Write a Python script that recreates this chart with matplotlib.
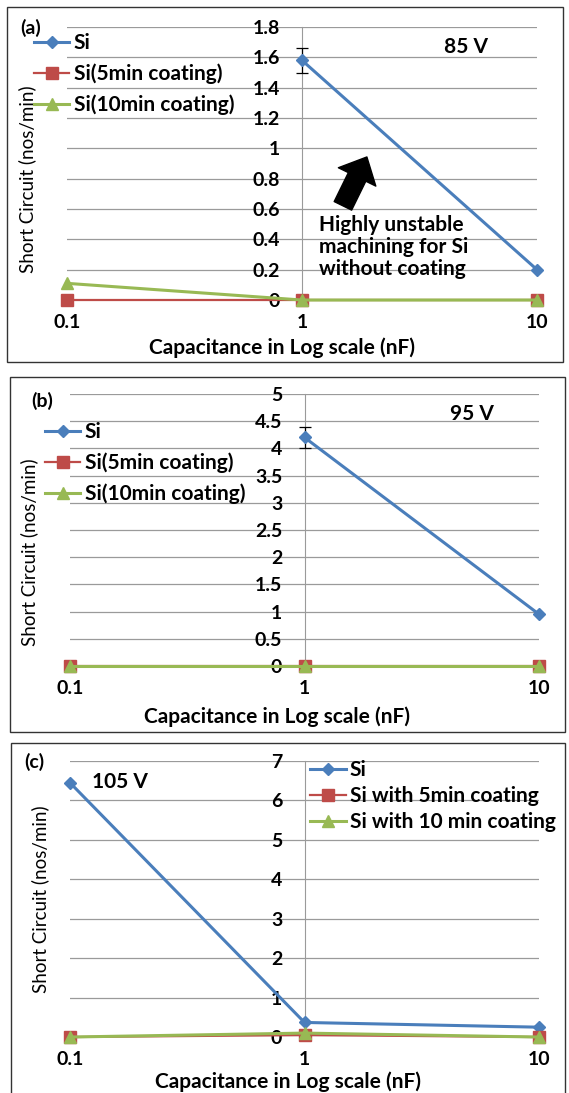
import numpy as np
import matplotlib
matplotlib.use("Agg")
import matplotlib.pyplot as plt
from matplotlib.patches import Rectangle

plt.rcParams['font.family'] = ['Lato', 'DejaVu Sans']
plt.rcParams['font.weight'] = 'bold'

# capacitance values (nF), shared by all panels
cap = [0.1, 1, 10]

# (a) 85 V
a_si = [np.nan, 1.58, 0.20]
a_si_err = [0, 0.08, 0]
a_5min = [0, 0, 0]
a_10min = [0.11, 0, 0]
a_ticks = [0, 0.2, 0.4, 0.6, 0.8, 1, 1.2, 1.4, 1.6, 1.8]
a_ticklabels = ['0', '0.2', '0.4', '0.6', '0.8', '1', '1.2', '1.4', '1.6', '1.8']

# (b) 95 V
b_si = [np.nan, 4.2, 0.95]
b_si_err = [0, 0.2, 0]
b_5min = [0, 0, 0]
b_10min = [0, 0, 0]
b_ticks = [0, 0.5, 1, 1.5, 2, 2.5, 3, 3.5, 4, 4.5, 5]
b_ticklabels = ['0', '0.5', '1', '1.5', '2', '2.5', '3', '3.5', '4', '4.5', '5']

# (c) 105 V
c_si = [6.45, 0.37, 0.25]
c_si_err = [0, 0, 0]
c_5min = [0, 0.05, 0]
c_10min = [0, 0.1, 0]
c_ticks = [0, 1, 2, 3, 4, 5, 6, 7]
c_ticklabels = ['0', '1', '2', '3', '4', '5', '6', '7']

labels_ab = ['Si', 'Si(5min coating)', 'Si(10min coating)']
labels_c = ['Si', 'Si with 5min coating', 'Si with 10 min coating']

BLUE, RED, GREEN = '#4A7EBB', '#BE4B48', '#98B954'
GRID = '#9A9A9A'
FS = 15       # legend / notes / x title
FS_TICK = 14
FS_YLAB = 13.5

fig = plt.figure(figsize=(5.69, 10.93), dpi=100)


def panel(rect, si, err, s5, s10, ticks, ticklabels, labels, leg_xy, leg_sp,
          xlab_xy, ylab_xy):
    ax = fig.add_axes(rect)
    ax.set_xscale('log')
    ax.set_xlim(0.1, 10)
    ax.set_ylim(ticks[0], ticks[-1])
    ax.set_yticks(ticks)
    ax.set_yticklabels(ticklabels)
    ax.set_xticks(cap)
    ax.set_xticklabels(['0.1', '1', '10'])
    ax.minorticks_off()
    ax.grid(axis='y', color=GRID, lw=0.9)
    ax.set_axisbelow(True)
    for s in ['top', 'right', 'bottom']:
        ax.spines[s].set_visible(False)
    ax.spines['left'].set_position(('data', 1))
    ax.spines['left'].set_color(GRID)
    ax.tick_params(axis='y', length=0, pad=16, labelsize=FS_TICK)
    ax.tick_params(axis='x', length=0, pad=10, labelsize=FS_TICK)

    l1, = ax.plot(cap, si, color=BLUE, lw=2.2, marker='D', ms=6, zorder=4,
                  clip_on=False)
    l2, = ax.plot(cap, s5, color=RED, lw=1.6, marker='s', ms=8, zorder=5,
                  clip_on=False)
    l3, = ax.plot(cap, s10, color=GREEN, lw=2.2, marker='^', ms=8, zorder=6,
                  clip_on=False)
    for x, y, e in zip(cap, si, err):
        if e > 0:
            ax.errorbar(x, y, yerr=e, color='black', lw=0.9, capsize=4,
                        capthick=0.9, zorder=3)

    ax.legend([l1, l2, l3], labels, loc='upper left', bbox_to_anchor=leg_xy,
              bbox_transform=fig.transFigure, frameon=False, borderpad=0,
              borderaxespad=0, handlelength=1.7, handletextpad=0.2,
              labelspacing=leg_sp, fontsize=FS)

    ax.set_xlabel('Capacitance in Log scale (nF)', fontsize=FS, fontweight='bold',
                  va='center')
    ax.xaxis.set_label_coords(*xlab_xy)
    ax.set_ylabel('Short Circuit (nos/min)', fontsize=FS_YLAB, fontweight='normal',
                  va='center')
    ax.yaxis.set_label_coords(*ylab_xy)
    return ax


ax_a = panel([0.1178, 0.7255, 0.826, 0.2498], a_si, a_si_err, a_5min, a_10min,
             a_ticks, a_ticklabels, labels_ab, (0.0598, 0.9698), 0.5,
             (0.457, -0.176), (-0.085, 0.443))
ax_b = panel([0.1230, 0.3907, 0.8243, 0.2489], b_si, b_si_err, b_5min, b_10min,
             b_ticks, b_ticklabels, labels_ab, (0.079, 0.6139), 0.5,
             (0.441, -0.1875), (-0.087, 0.419))
ax_c = panel([0.1230, 0.0512, 0.8243, 0.2525], c_si, c_si_err, c_5min, c_10min,
             c_ticks, c_ticklabels, labels_c, (0.545, 0.3047), 0.3,
             (0.464, -0.163), (-0.064, 0.5))

# voltage notes
ax_a.text(0.849, 0.927, '85 V', transform=ax_a.transAxes, fontsize=FS,
          ha='center', va='center')
ax_b.text(0.857, 0.926, '95 V', transform=ax_b.transAxes, fontsize=FS,
          ha='center', va='center')
ax_c.text(0.107, 0.924, '105 V', transform=ax_c.transAxes, fontsize=FS,
          ha='center', va='center')

# annotation in (a)
ax_a.text(0.536, 0.31, 'Highly unstable\nmachining for Si\nwithout coating',
          transform=ax_a.transAxes, fontsize=FS, ha='left', va='top',
          linespacing=1.12)
ax_a.annotate('', xy=(0.638, 0.524), xytext=(0.587, 0.345),
              xycoords='axes fraction', textcoords='axes fraction',
              arrowprops=dict(arrowstyle='simple,head_length=0.8,head_width=1.5,tail_width=0.7',
                              fc='black', ec='black', mutation_scale=20,
                              shrinkA=0, shrinkB=0))

# panel letters
fig.text(31 / 569, 1 - 28 / 1093, '(a)', fontsize=FS_TICK, ha='center', va='center')
fig.text(42 / 569, 1 - 401 / 1093, '(b)', fontsize=FS_TICK, ha='center', va='center')
fig.text(34 / 569, 1 - 762 / 1093, '(c)', fontsize=FS_TICK, ha='center', va='center')

# panel frames
for x0, y0, w, h in [(0.0123, 0.6688, 0.977, 0.3248),
                     (0.0176, 0.3303, 0.9754, 0.3248),
                     (0.0193, -0.05, 0.974, 0.3702)]:
    fig.add_artist(Rectangle((x0, y0), w, h, transform=fig.transFigure,
                             fill=False, ec='#333333', lw=1.0))

fig.savefig('out.png', dpi=100)
